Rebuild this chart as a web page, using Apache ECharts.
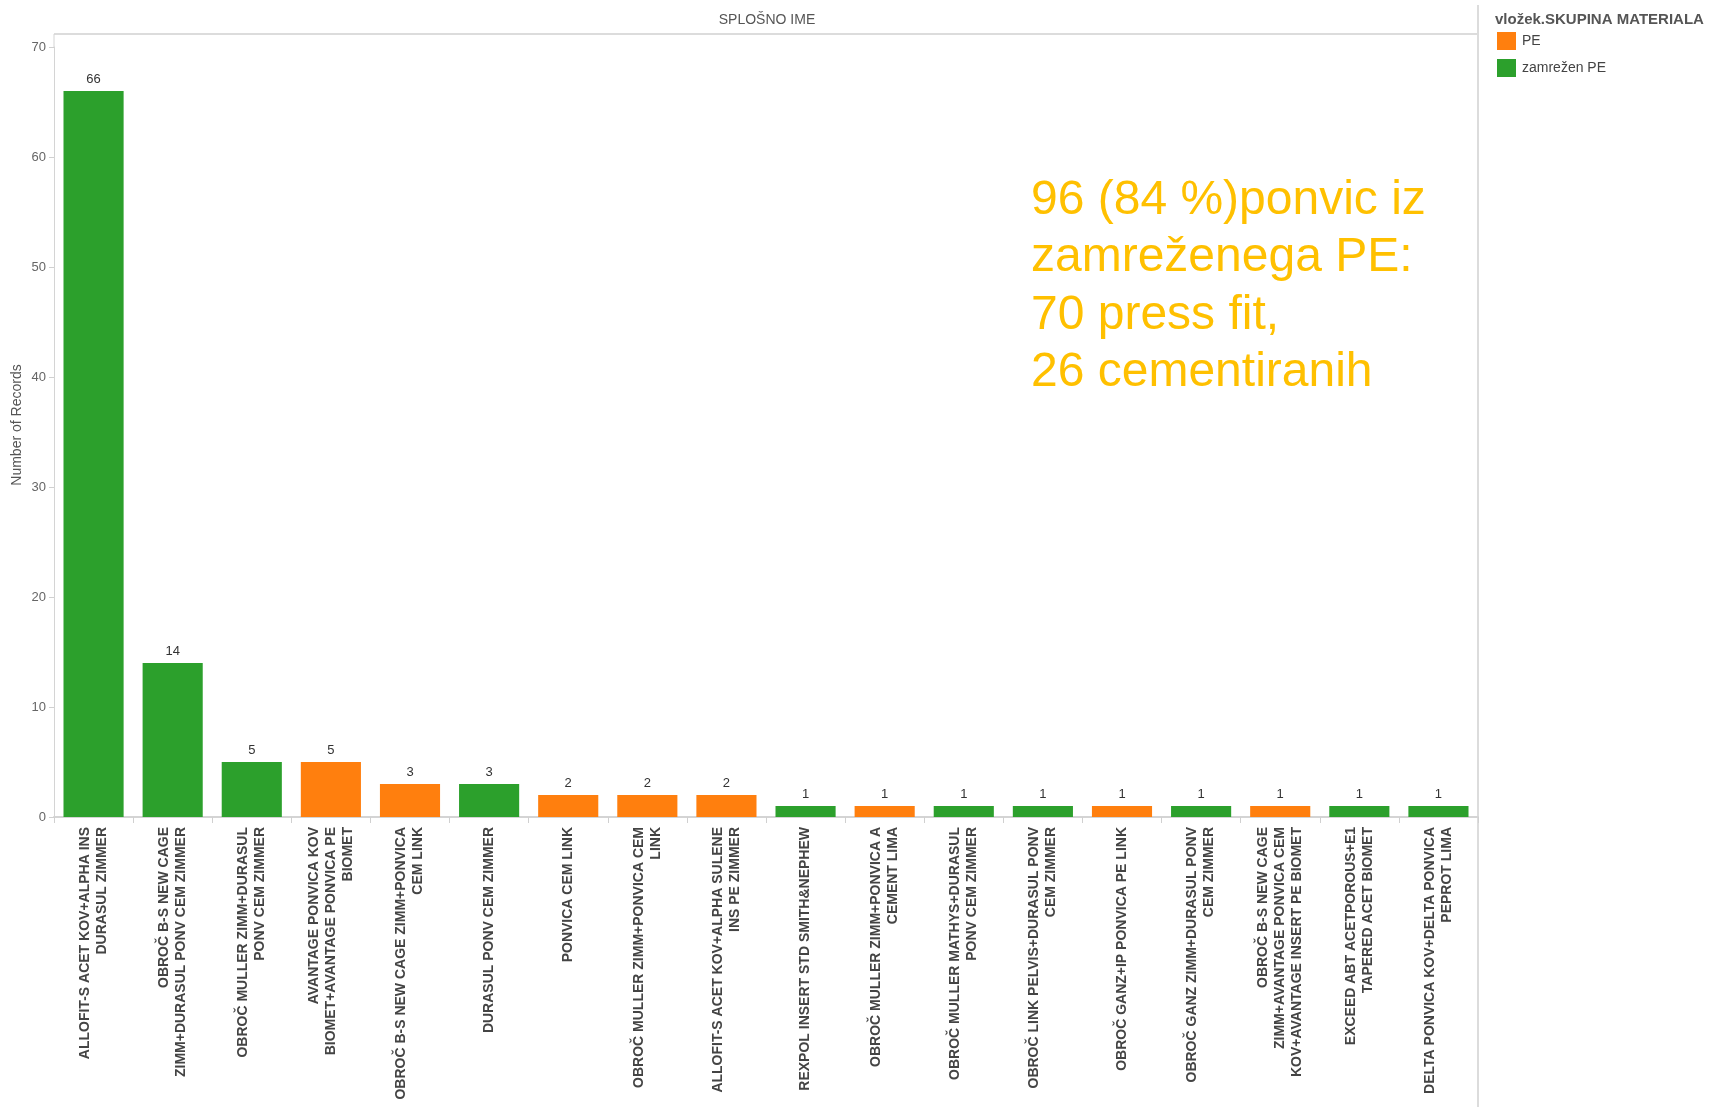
<!DOCTYPE html>
<html>
<head>
<meta charset="utf-8">
<script src="https://cdn.jsdelivr.net/npm/echarts@6/dist/echarts.min.js"></script>
<style>
html,body{margin:0;padding:0;background:#fff;}
#c{width:1717px;height:1107px;}
</style>
</head>
<body>
<div id="c"></div>
<script>
const categories = [
  "ALLOFIT-S ACET KOV+ALPHA INS\nDURASUL ZIMMER",
  "OBROČ B-S NEW CAGE\nZIMM+DURASUL PONV CEM ZIMMER",
  "OBROČ MULLER ZIMM+DURASUL\nPONV CEM ZIMMER",
  "AVANTAGE PONVICA KOV\nBIOMET+AVANTAGE PONVICA PE\nBIOMET",
  "OBROČ B-S NEW CAGE ZIMM+PONVICA\nCEM LINK",
  "DURASUL PONV CEM ZIMMER",
  "PONVICA CEM LINK",
  "OBROČ MULLER ZIMM+PONVICA CEM\nLINK",
  "ALLOFIT-S ACET KOV+ALPHA SULENE\nINS PE ZIMMER",
  "REXPOL INSERT STD SMITH&NEPHEW",
  "OBROČ MULLER ZIMM+PONVICA A\nCEMENT LIMA",
  "OBROČ MULLER MATHYS+DURASUL\nPONV CEM ZIMMER",
  "OBROČ LINK PELVIS+DURASUL PONV\nCEM ZIMMER",
  "OBROČ GANZ+IP PONVICA PE LINK",
  "OBROČ GANZ ZIMM+DURASUL PONV\nCEM ZIMMER",
  "OBROČ B-S NEW CAGE\nZIMM+AVANTAGE PONVICA CEM\nKOV+AVANTAGE INSERT PE BIOMET",
  "EXCEED ABT ACETPOROUS+E1\nTAPERED ACET BIOMET",
  "DELTA PONVICA KOV+DELTA PONVICA\nPEPROT LIMA"
];
const valuesPE =        ['-','-','-',5,3,'-',2,2,2,'-',1,'-','-',1,'-',1,'-','-'];
const valuesZamrezen =  [66,14,5,'-','-',3,'-','-','-',1,'-',1,1,'-',1,'-',1,1];
const seriesNames = ["PE", "zamrežen PE"];
const yTicks = {min: 0, max: 70, interval: 10};
const chartTitle = "SPLOŠNO IME";
const yName = "Number of Records";
const legendTitle = "vložek.SKUPINA MATERIALA";
const noteLines = ["96 (84 %)ponvic iz", "zamreženega PE:", "70 press fit,", "26 cementiranih"];

const FONT = '"Liberation Sans", Arial, sans-serif';
const chart = echarts.init(document.getElementById('c'), null, {renderer: 'canvas'});

const labelCfg = {
  show: true, position: 'top', distance: 5,
  color: '#333', fontSize: 13, fontFamily: FONT
};

chart.setOption({
  animation: false,
  textStyle: {fontFamily: FONT},
  grid: {left: 54, right: 239, top: 47, bottom: 290, containLabel: false},
  legend: {
    orient: 'vertical', left: 1492, top: 27,
    itemWidth: 19, itemHeight: 18, itemGap: 9,
    icon: 'rect',
    textStyle: {fontSize: 14, color: '#444', fontFamily: FONT, padding: [0,0,0,1]},
    data: seriesNames
  },
  xAxis: {
    type: 'category',
    data: categories,
    axisLine: {lineStyle: {color: '#d4d4d4', width: 2}},
    axisTick: {show: true, length: 6, lineStyle: {color: '#d0d0d0'}},
    axisLabel: {
      rotate: 90, interval: 0, margin: 10,
      fontSize: 14, fontWeight: 'bold', color: '#444', lineHeight: 17, fontFamily: FONT
    }
  },
  yAxis: {
    type: 'value', min: yTicks.min, max: yTicks.max, interval: yTicks.interval,
    splitLine: {show: false},
    axisLine: {show: true, lineStyle: {color: '#d4d4d4'}},
    axisTick: {show: true, length: 5, lineStyle: {color: '#d0d0d0'}},
    axisLabel: {fontSize: 13, color: '#666', margin: 8, fontFamily: FONT}
  },
  series: [
    {
      name: seriesNames[0], type: 'bar', stack: 'a', data: valuesPE,
      barCategoryGap: '24%',
      itemStyle: {color: '#ff7f0e'},
      label: labelCfg
    },
    {
      name: seriesNames[1], type: 'bar', stack: 'a', data: valuesZamrezen,
      barCategoryGap: '24%',
      itemStyle: {color: '#2ca02c'},
      label: labelCfg
    }
  ],
  graphic: [
    {type: 'line', silent: true, shape: {x1: 54, y1: 34, x2: 1478, y2: 34}, style: {stroke: '#dcdcdc', lineWidth: 2}},
    {type: 'line', silent: true, shape: {x1: 54, y1: 34, x2: 54, y2: 47}, style: {stroke: '#d4d4d4', lineWidth: 1}},
    {type: 'line', silent: true, shape: {x1: 1478, y1: 5, x2: 1478, y2: 1107}, style: {stroke: '#dcdcdc', lineWidth: 2}},
    {type: 'text', silent: true, style: {text: chartTitle, x: 767, y: 20, align: 'center', verticalAlign: 'middle', fontSize: 14, fill: '#555', fontFamily: FONT}},
    {type: 'text', silent: true, x: 17, y: 425, rotation: Math.PI / 2, style: {text: yName, x: 0, y: 0, align: 'center', verticalAlign: 'middle', fontSize: 14, fill: '#555', fontFamily: FONT}},
    {type: 'text', silent: true, style: {text: legendTitle, x: 1495, y: 20, align: 'left', verticalAlign: 'middle', fontSize: 15, fontWeight: 'bold', fill: '#555', fontFamily: FONT}},
    {type: 'text', silent: true, style: {text: noteLines.join('\n'), x: 1031, y: 172, align: 'left', verticalAlign: 'top', fontSize: 48, lineHeight: 57.5, fill: '#ffc000', fontFamily: FONT}}
  ]
});
</script>
</body>
</html>
